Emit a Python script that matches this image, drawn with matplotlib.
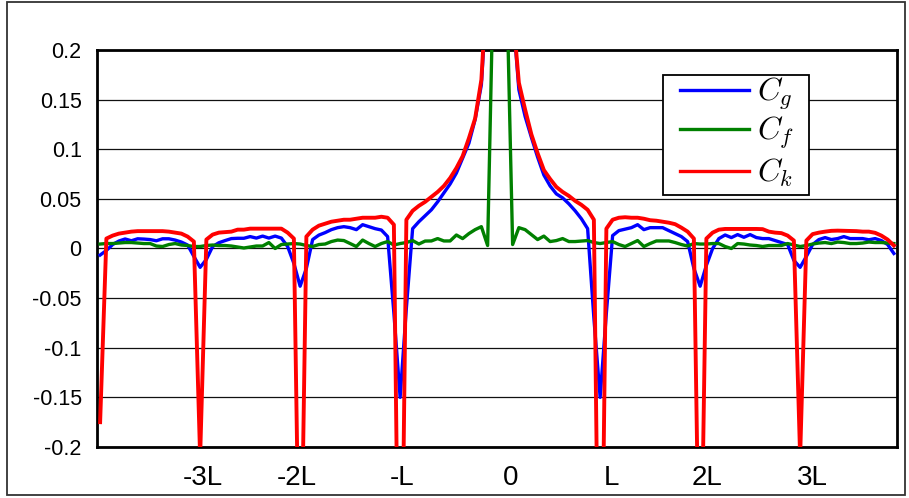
import numpy as np
import matplotlib
matplotlib.use("Agg")
import matplotlib.pyplot as plt
from matplotlib.patches import Rectangle
from matplotlib.lines import Line2D

# sample index k (x = k/16 L), k = -64 .. 63
k_start, k_stop, per_L = -64, 64, 16

C_k = [-0.175, 0.010, 0.013, 0.015, 0.016, 0.017, 0.0175, 0.0175, 0.0175, 0.0175,
       0.0175, 0.017, 0.016, 0.015, 0.012, 0.007, -0.21, 0.009, 0.014, 0.016,
       0.0165, 0.017, 0.019, 0.019, 0.020, 0.020, 0.020, 0.020, 0.020, 0.020,
       0.016, 0.010, -0.40, 0.012, 0.019, 0.023, 0.025, 0.027, 0.028, 0.029,
       0.029, 0.030, 0.031, 0.031, 0.031, 0.032, 0.031, 0.024, -0.50, 0.029,
       0.038, 0.043, 0.047, 0.052, 0.057, 0.063, 0.071, 0.081, 0.093, 0.111,
       0.131, 0.170, 0.28, 0.50, 1.0, 0.50, 0.24, 0.167, 0.140, 0.115,
       0.096, 0.079, 0.070, 0.062, 0.057, 0.053, 0.048, 0.044, 0.039, 0.029,
       -0.50, 0.020, 0.029, 0.031, 0.0315, 0.031, 0.031, 0.030, 0.0285, 0.028,
       0.027, 0.026, 0.0245, 0.021, 0.017, 0.010, -0.40, 0.010, 0.016, 0.019,
       0.0197, 0.0197, 0.0197, 0.0197, 0.0197, 0.0197, 0.0195, 0.017, 0.016, 0.0155,
       0.013, 0.008, -0.21, 0.008, 0.0145, 0.016, 0.017, 0.0178, 0.018, 0.0178,
       0.0176, 0.0175, 0.017, 0.017, 0.0158, 0.013, 0.009, 0.003]

C_g = [-0.0066, -0.002, 0.004, 0.0075, 0.0096, 0.0078, 0.0098, 0.0095, 0.009, 0.0078,
       0.0098, 0.0098, 0.0085, 0.0065, 0.0035, -0.008, -0.019, -0.011, 0.002, 0.0058,
       0.008, 0.010, 0.0103, 0.0103, 0.012, 0.0105, 0.0125, 0.0105, 0.0125, 0.0105,
       0.002, -0.015, -0.038, -0.02, 0.009, 0.0135, 0.016, 0.019, 0.021, 0.022,
       0.021, 0.019, 0.024, 0.022, 0.020, 0.0186, 0.012, -0.065, -0.15, -0.06,
       0.020, 0.027, 0.033, 0.039, 0.047, 0.056, 0.065, 0.076, 0.091, 0.106,
       0.130, 0.165, 0.27, 0.50, 1.0, 0.50, 0.24, 0.160, 0.133, 0.112,
       0.092, 0.074, 0.063, 0.055, 0.051, 0.045, 0.038, 0.030, 0.020, -0.07,
       -0.15, -0.065, 0.013, 0.018, 0.0195, 0.021, 0.024, 0.019, 0.021, 0.021,
       0.021, 0.018, 0.015, 0.012, 0.007, -0.02, -0.038, -0.017, 0.0, 0.010,
       0.0136, 0.011, 0.014, 0.0113, 0.014, 0.011, 0.010, 0.010, 0.008, 0.006,
       0.004, -0.012, -0.019, -0.008, 0.004, 0.009, 0.011, 0.009, 0.010, 0.012,
       0.010, 0.010, 0.010, 0.0088, 0.010, 0.008, 0.004, -0.005]

C_f = [0.0045, 0.005, 0.005, 0.0055, 0.006, 0.006, 0.0055, 0.005, 0.005, 0.0025,
       0.002, 0.004, 0.005, 0.0035, 0.003, 0.002, 0.002, 0.003, 0.0035, 0.003,
       0.003, 0.0025, 0.0015, 0.0005, 0.0015, 0.0025, 0.0025, 0.006, 0.0, 0.004,
       0.0045, 0.005, 0.0045, 0.003, 0.002, 0.004, 0.0045, 0.007, 0.0085, 0.008,
       0.005, 0.002, 0.0085, 0.005, 0.002, 0.005, 0.007, 0.0035, 0.005, 0.006,
       0.008, 0.0045, 0.0075, 0.0076, 0.010, 0.0076, 0.0076, 0.0136, 0.010, 0.015,
       0.019, 0.022, 0.003, 0.30, 0.60, 0.28, 0.004, 0.021, 0.019, 0.014,
       0.009, 0.0125, 0.007, 0.008, 0.010, 0.007, 0.007, 0.0075, 0.008, 0.006,
       0.005, 0.006, 0.007, 0.004, 0.002, 0.005, 0.008, 0.002, 0.005, 0.0076,
       0.0076, 0.0076, 0.006, 0.004, 0.0025, 0.005, 0.0045, 0.0045, 0.005, 0.005,
       0.002, 0.0, 0.005, 0.0045, 0.0035, 0.003, 0.002, 0.003, 0.003, 0.003,
       0.005, 0.0035, 0.002, 0.003, 0.0045, 0.0055, 0.006, 0.005, 0.0065, 0.006,
       0.005, 0.005, 0.0055, 0.0065, 0.006, 0.006, 0.0055, 0.005]

series_names = [r'$C_g$', r'$C_f$', r'$C_k$']
series_colors = ['#0000FF', '#008000', '#FF0000']

tick_labels = ["-3L", "-2L", "-L", "0", "L", "2L", "3L"]
tick_pos = [-2.97, -2.03, -0.98, 0.10, 1.11, 2.07, 3.12]
y_ticks = [0.2, 0.15, 0.1, 0.05, 0, -0.05, -0.1, -0.15, -0.2]
y_labels = ["0.2", "0.15", "0.1", "0.05", "0", "-0.05", "-0.1", "-0.15", "-0.2"]

x = np.arange(k_start, k_stop) / per_L

plt.rcParams['font.family'] = ['Liberation Sans', 'DejaVu Sans']
plt.rcParams['mathtext.fontset'] = 'cm'

W, H = 909, 498
fig = plt.figure(figsize=(W / 100, H / 100), dpi=100)
ax = fig.add_axes([97 / W, 1 - 447 / H, 800 / W, 397 / H])

def fx(px):
    return px / W

def fy(py):
    return 1 - py / H

# outer border
fig.patches.append(Rectangle((fx(7), fy(495)), 898 / W, 493 / H, transform=fig.transFigure,
                             fill=False, edgecolor='#333333', linewidth=1.3))

widths = [2.4, 2.4, 2.8]
for vals, name, col, lw, z in zip([C_g, C_f, C_k], series_names, series_colors, widths, [3, 4, 5]):
    ax.plot(x, vals, color=col, lw=lw, zorder=z, label=name)

ax.set_xlim((k_start - 0.5) / per_L, (k_stop - 0.5) / per_L)
ax.set_ylim(-0.2, 0.2)
ax.set_yticks(y_ticks)
ax.set_yticklabels(y_labels, fontsize=15.5)
ax.set_xticks(tick_pos)
ax.set_xticklabels(tick_labels, fontsize=20)
ax.tick_params(axis='both', length=0)
ax.tick_params(axis='y', pad=11)
ax.tick_params(axis='x', pad=13)
ax.yaxis.grid(True, color='#111111', lw=0.9)
ax.xaxis.grid(False)
ax.set_axisbelow(True)
for s in ax.spines.values():
    s.set_linewidth(2.0)
    s.set_color('black')

# legend box (drawn manually for exact placement)
fig.patches.append(Rectangle((fx(663), fy(195)), 146 / W, 120 / H, transform=fig.transFigure,
                             facecolor='white', edgecolor='black', linewidth=1.3, zorder=10))
row_y = [90, 129, 171]
for name, col, lw, ry in zip(series_names, series_colors, widths, row_y):
    fig.lines.append(Line2D([fx(680), fx(749)], [fy(ry), fy(ry)], transform=fig.transFigure,
                            color=col, lw=2.4, zorder=11))
    fig.text(fx(757), fy(ry + 11), name, fontsize=23, ha='left', va='baseline', zorder=12)

fig.savefig('out.png', dpi=100)
